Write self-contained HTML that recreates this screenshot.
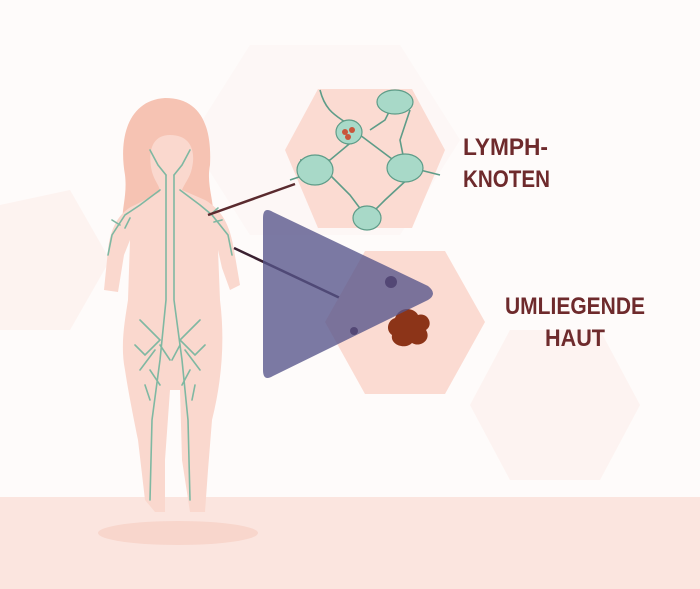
<!DOCTYPE html>
<html><head><meta charset="utf-8"><style>
html,body{margin:0;padding:0;width:700px;height:589px;overflow:hidden;background:#fefbfa}
svg{display:block}
text{font-family:"Liberation Sans",sans-serif;font-weight:bold;fill:#6e2a2c}
</style></head><body>
<svg width="700" height="589" viewBox="0 0 700 589" xmlns="http://www.w3.org/2000/svg">
<rect width="700" height="589" fill="#fefbfa"/>
<polygon points="250,45 400,45 460,140 400,235 250,235 190,140" fill="#fcf3f1" opacity="0.5"/>
<polygon points="0,205 70,190 110,260 70,330 0,330" fill="#fcefeb" opacity="0.7"/>
<polygon points="510,330 600,330 640,405 600,480 510,480 470,405" fill="#fcf0ec" opacity="0.7"/>
<rect x="0" y="497" width="700" height="92" fill="#fbe5df"/>
<ellipse cx="178" cy="533" rx="80" ry="12" fill="#f8d6cc"/>
<path d="M165,98 C130,100 118,135 125,175 C128,200 118,215 125,235 L210,235 C220,210 205,190 210,165 C212,125 200,98 165,98 Z" fill="#f6c3b3"/>
<path d="M170,135 C150,135 148,155 152,172 C155,182 160,186 160,192 L135,205 C118,212 110,230 108,250 L104,290 L118,292 L124,255 L130,240 L128,300 C125,320 120,345 125,370 C128,390 132,410 138,440 L145,500 L155,512 L165,512 L165,460 L170,390 L180,390 L182,460 L190,512 L205,512 L208,470 L212,420 C222,380 225,340 220,300 L218,250 L222,268 L230,290 L240,285 L234,250 C230,225 222,210 205,200 L182,190 C184,184 190,178 192,168 C196,150 190,135 170,135 Z" fill="#fad8ce"/>
<g fill="none" stroke="#7fb8a2" stroke-width="1.6" stroke-linecap="round">
<path d="M166,175 L166,300 L160,360 L152,420 L150,500"/>
<path d="M174,175 L174,300 L182,360 L188,420 L190,500"/>
<path d="M160,190 L140,205 L125,215 L112,235 L108,255"/>
<path d="M180,190 L200,205 L212,215 L228,235 L232,255"/>
<path d="M150,150 L158,165 L166,175 M190,150 L182,165 L174,175"/>
<path d="M140,320 L150,330 L160,340 L145,355 L135,345 M155,350 L140,370 M160,345 L170,360 M150,370 L160,385 M145,385 L150,400"/>
<path d="M200,320 L190,330 L180,340 L195,355 L205,345 M185,350 L200,370 M180,345 L172,360 M190,370 L182,385 M195,385 L192,400"/>
<path d="M120,225 L112,220 M125,228 L130,218 M210,215 L218,208 M214,222 L222,220"/>
</g>
<line x1="208" y1="215" x2="295" y2="184" stroke="#5a2a2e" stroke-width="2.5"/>
<line x1="234" y1="248" x2="340" y2="298" stroke="#3a2030" stroke-width="2.5"/>
<polygon points="318,89 412,89 445,150 412,228 318,228 285,150" fill="#fbdbd2"/>
<g fill="none" stroke="#5e9c88" stroke-width="1.6">
<path d="M320,90 C325,110 335,115 345,122 M360,135 L380,150 L400,165 M395,100 L385,120 L370,130 M410,110 L400,140 L405,165 M300,160 L330,160 L360,135 M330,175 L350,195 L365,215 M420,170 L440,175 M412,175 L385,200 L370,215 M290,180 L305,175"/>
</g>
<g fill="#a8d9c8" stroke="#5e9c88" stroke-width="1.2">
<ellipse cx="395" cy="102" rx="18" ry="12"/>
<ellipse cx="349" cy="132" rx="13" ry="12"/>
<ellipse cx="315" cy="170" rx="18" ry="15"/>
<ellipse cx="405" cy="168" rx="18" ry="14"/>
<ellipse cx="367" cy="218" rx="14" ry="12"/>
</g>
<circle cx="345" cy="132" r="3" fill="#c9553a"/><circle cx="352" cy="130" r="3" fill="#c9553a"/><circle cx="348" cy="137" r="3" fill="#c9553a"/>
<polygon points="365,251 445,251 485,322 445,394 365,394 325,322" fill="#fbdbd2"/>
<path d="M395,318 C400,305 415,308 418,315 C428,312 434,325 426,330 C432,340 420,348 412,343 C405,350 390,345 392,335 C385,330 388,320 395,318 Z" fill="#8c3418"/>
<circle cx="391" cy="282" r="6" fill="#4a1a2c"/>
<circle cx="354" cy="331" r="4" fill="#4a1a2c"/>
<path d="M263,218 Q263,206 273,212 L428,286 Q438,294 428,300 L273,376 Q263,382 263,370 Z" fill="#56548a" opacity="0.78"/>
<text x="463" y="155" font-size="24" textLength="85" lengthAdjust="spacingAndGlyphs">LYMPH-</text>
<text x="463" y="187" font-size="24" textLength="87" lengthAdjust="spacingAndGlyphs">KNOTEN</text>
<text x="505" y="314" font-size="24" textLength="140" lengthAdjust="spacingAndGlyphs">UMLIEGENDE</text>
<text x="545" y="346" font-size="24" textLength="60" lengthAdjust="spacingAndGlyphs">HAUT</text>
</svg>
</body></html>
